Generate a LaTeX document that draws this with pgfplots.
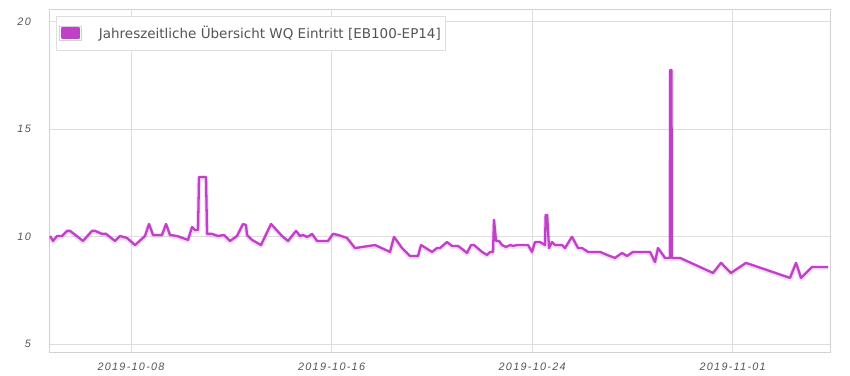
\documentclass[border=0pt]{standalone}
\usepackage{fontspec}
\setmainfont{DejaVu Sans}
\newfontfamily\tickfont[LetterSpace=12]{Liberation Sans}
\usepackage{pgfplots}
\pgfplotsset{compat=1.18}
\definecolor{serie}{RGB}{192,64,200}
\definecolor{gridc}{RGB}{222,222,222}
\definecolor{framec}{RGB}{210,210,210}
\definecolor{labc}{RGB}{84,84,84}
\pgfplotstableread{
x y
4.769 10.03
4.889 9.80
5.048 10.03
5.248 10.03
5.447 10.27
5.567 10.27
6.085 9.80
6.444 10.27
6.564 10.27
6.843 10.13
7.003 10.13
7.362 9.80
7.561 10.03
7.840 9.94
8.160 9.61
8.558 10.03
8.718 10.59
8.878 10.08
9.237 10.08
9.396 10.59
9.556 10.08
9.835 10.03
10.274 9.85
10.433 10.45
10.553 10.31
10.673 10.31
10.712 12.78
10.992 12.78
11.032 10.13
11.231 10.13
11.470 10.03
11.710 10.08
11.949 9.80
12.228 10.03
12.467 10.59
12.587 10.54
12.627 10.08
12.826 9.85
13.185 9.61
13.584 10.59
14.023 10.03
14.263 9.80
14.582 10.27
14.741 10.03
14.861 10.08
15.020 9.99
15.100 10.03
15.220 10.13
15.419 9.80
15.858 9.80
16.057 10.13
16.257 10.08
16.616 9.94
16.935 9.47
17.733 9.61
18.331 9.29
18.491 9.99
18.810 9.47
19.129 9.10
19.448 9.10
19.568 9.61
20.006 9.29
20.206 9.47
20.325 9.47
20.605 9.75
20.804 9.57
21.044 9.57
21.203 9.43
21.403 9.24
21.562 9.61
21.682 9.61
22.001 9.29
22.200 9.15
22.320 9.29
22.440 9.29
22.479 10.78
22.559 9.80
22.679 9.80
22.799 9.61
22.958 9.52
23.118 9.61
23.237 9.57
23.397 9.61
23.836 9.61
23.995 9.29
24.115 9.75
24.314 9.75
24.514 9.61
24.540 11.01
24.600 11.01
24.673 9.47
24.793 9.75
24.913 9.61
25.192 9.61
25.312 9.47
25.511 9.85
25.591 9.99
25.830 9.47
25.990 9.47
26.229 9.29
26.708 9.29
26.987 9.15
27.306 9.01
27.585 9.24
27.785 9.10
28.024 9.29
28.702 9.29
28.902 8.82
29.021 9.47
29.301 9.01
29.500 9.01
29.510 17.76
29.560 17.76
29.570 9.01
29.899 9.01
31.215 8.31
31.534 8.78
31.933 8.31
32.531 8.78
34.286 8.08
34.526 8.78
34.725 8.08
35.164 8.59
35.802 8.59
}\datatable
\begin{document}
\begin{tikzpicture}
\path[use as bounding box] (0,0) rectangle (850pt,375pt);
\begin{axis}[
  at={(49.3pt,23pt)}, anchor=south west,
  scale only axis, width=781.4pt, height=343pt,
  xmin=4.74, xmax=35.91, ymin=4.63, ymax=20.6,
  xtick={8,16,24,32},
  xticklabels={2019-10-08,2019-10-16,2019-10-24,2019-11-01},
  ytick={5,10,15,20},
  major tick length=0pt,
  grid=major,
  major grid style={gridc, line width=0.9pt},
  axis line style={framec, line width=0.9pt},
  /pgf/number format/assume math mode=true,
  tick label style={font=\fontsize{10.8}{12}\selectfont\tickfont\itshape, text=labc},
  xticklabel style={yshift=-7pt},
  yticklabel style={xshift=-15pt},
  legend style={at={(0.0086,0.98)}, anchor=north west, draw=gridc, fill=white,
    line width=0.9pt, inner xsep=3pt, inner ysep=8pt,
    font=\fontsize{13.5}{16}\selectfont, text=labc,
    legend cell align=left},
  legend image code/.code={
    \path[draw=none, fill=none] (0pt,0pt) -- (37pt,0pt);
    \draw[framec, line width=0.8pt, fill=white] (0pt,-7pt) rectangle (21.5pt,7pt);
    \fill[serie] (2.5pt,-5pt) rectangle (19pt,5pt);
  },
]
\addplot[serie, opacity=0.18, line width=4.5pt, line join=round, forget plot, yshift=-1pt] table[x=x,y=y] {\datatable};
\addplot[serie, line width=2.3pt, line join=round] table[x=x,y=y] {\datatable};
\addlegendentry{Jahreszeitliche Übersicht WQ Eintritt [EB100-EP14]}
\end{axis}
\end{tikzpicture}
\end{document}
